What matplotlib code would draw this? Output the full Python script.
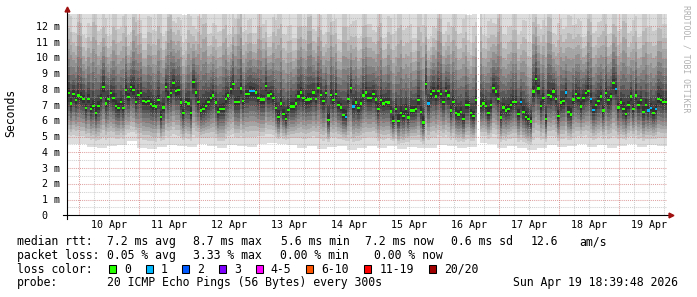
import numpy as np
import matplotlib

matplotlib.use("Agg")
import matplotlib.pyplot as plt
from matplotlib.lines import Line2D
from matplotlib.patches import Rectangle

W, H = 697, 297
MONO = "DejaVu Sans Mono"

# hourly median rtt (ms), first sample Apr 9 19:12, nan = no data
median_ms = [
    7.75, 7.1, 7.7, 7.3, 7.6, 7.5, 7.4, 6.8, 7.4, 6.75,
    6.95, 6.5, 6.95, 7.45, 8.15, 7.1, 7.4, 7.75, 7.45, 6.95,
    6.8, 7.2, 6.8, 7.95, 7.5, 8.15, 7.95, 7.2, 7.65, 7.75,
    7.25, 7.2, 7.25, 7.05, 6.95, 6.9, 7.3, 6.25, 6.85, 8.15,
    7.5,
    7.75, 8.4, 7.9, 7.95, 7.15, 6.5, 7.2, 7.1, 6.5, 8.45,
    7.8, 7.2, 6.65, 6.75, 6.95, 7.2, 7.45, 7.6, 7.15, 6.55,
    6.75, 6.75, 7.4, 7.6, 8.0, 8.35, 7.2, 7.2, 8.05, 7.25,
    7.7, 7.7, 7.9, 7.9, 7.8, 7.45, 7.35, 7.35, 8.2,
    7.6, 7.7, 7.45, 6.8, 6.25, 7.1, 6.45, 6.1, 6.7, 6.9,
    6.9, 7.1, 7.55, 7.8, 7.45, 7.3, 7.35, 7.4, 7.8, 7.4,
    8.1, 7.65, 7.25, 7.75, 6.05, 7.65, 7.3, 7.7, 7.0, 6.85,
    6.35, 6.25, 7.4, 8.1, 6.9, 7.15, 6.8, 7.1, 7.6, 7.8,
    7.45, 7.45, 7.7, 7.35, 6.75, 7.3, 7.1, 7.2, 7.15, 6.6,
    6.0, 6.75, 6.0, 6.5, 6.3, 6.75, 6.2, 6.65, 6.65, 6.75,
    7.3, 6.55, 5.9, 8.35, 7.1, 7.7, 7.9, 7.55, 7.9, 7.7,
    7.2, 7.9, 7.6, 6.65, 7.2, 6.5, 6.4, 6.55, 6.1, 7.0,
    7.0, 6.5, 6.3, 7.3, np.nan, 6.95, 7.1, 6.95, 6.5, 7.0,
    8.1, 7.85, 7.4, 6.2, 6.85, 6.65, 6.75, 7.0, 7.2, 7.2,
    6.45, 7.2, 6.55, 6.25, 6.1, 5.95, 7.85, 8.65, 8.05, 6.95,
    7.45, 6.1, 7.65, 7.55, 7.85, 7.4, 6.3, 7.15, 7.25, 7.8,
    6.55, 6.4, 7.35, 7.7, 7.45, 6.9, 7.45, 7.75, 7.9, 7.4,
    6.7, 7.0, 7.25, 7.55, 6.65, 7.75, 7.3, 7.55, 8.4, 8.0,
    6.85, 7.15, 6.75, 6.45, 7.0, 7.55, 6.75, 7.6, 7.0, 7.3,
    6.55, 7.0, 6.65, 6.8, 6.5, 6.75, 7.4, 7.3, 7.2, 7.2,
]
# hours where 1 of 20 pings was lost
lossy_hours = [73, 74, 111, 114, 144, 181, 199, 209, 210, 219, 232, 233, 235]

# fastest ping (ms) in 4 hour blocks
smoke_floor_ms = [
    4.55, 4.5, 4.35, 4.3, 4.4, 4.45, 4.7, 4.25, 4.2, 4.35,
    4.45, 4.4, 4.35, 4.5, 4.4, 4.3, 4.45, 4.4, 4.35, 4.5,
    4.6, 4.5, 4.45, 4.3, 4.4, 4.2, 4.35, 4.4, 4.15, 4.3,
    4.4, 4.3, 4.4, 4.2, 4.35, 4.25, 4.3, 4.45, 4.4, 4.3,
    4.35, 4.6, 4.5, 4.3, 4.4, 4.25, 4.15, 4.3, 4.45, 4.35,
    4.4, 4.5, 4.35, 4.45, 4.3, 4.4, 4.5, 4.35, 4.45, 4.4,
]
# slowest ping (ms) in 2 hour blocks
smoke_ceil_ms = [
    14.8, 13.2, 15.5, 13.0, 14.1, 16.0, 13.5, 14.6, 12.9, 15.1,
    13.8, 14.9, 13.0, 15.8, 14.2, 12.8, 14.7, 13.6, 15.3, 13.1,
    16.2, 13.9, 14.4, 12.7, 15.0, 13.4, 14.8, 15.9, 13.2, 14.0,
    13.6, 15.4, 12.9, 14.5, 16.1, 13.3, 14.2, 13.0, 15.2, 14.0,
    12.8, 14.6, 15.7, 13.5, 14.1, 12.9, 15.0, 13.8, 16.3, 13.4,
    14.7, 13.1, 15.5, 14.3, 12.8, 15.9, 13.7, 14.4, 13.0, 15.1,
    14.0, 13.3, 15.6, 12.9, 14.8, 13.6, 16.0, 13.9, 14.3, 13.0,
    15.2, 14.5, 12.8, 13.6, 15.8, 13.2, 14.1, 15.3, 13.5, 14.9,
    12.7, 14.2, 15.5, 13.1, 14.6, 13.8, 16.1, 13.3, 14.0, 15.0,
    13.4, 14.7, 12.9, 15.4, 13.7, 14.3, 16.0, 13.0, 14.5, 13.6,
    15.1, 13.9, 14.4, 12.8, 15.7, 13.5, 14.2, 15.2, 13.1, 14.8,
    13.6, 16.2, 13.3, 14.6, 13.0, 15.3, 14.0, 13.7, 15.0, 14.1,
]
# where the sorted pings sit between median and envelope, outer pair first
lower_frac = [1.0, 0.821, 0.714, 0.625, 0.536, 0.446, 0.357, 0.268, 0.179, 0.089]
upper_frac = [1.0, 0.721, 0.588, 0.485, 0.397, 0.309, 0.235, 0.162, 0.103, 0.044]

day_labels = ["10 Apr", "11 Apr", "12 Apr", "13 Apr", "14 Apr",
              "15 Apr", "16 Apr", "17 Apr", "18 Apr", "19 Apr"]
window_start_day = -0.2  # relative to Apr 10 00:00
y_max_ms = 12.78

loss_legend = [("0", "#26ff00"), ("1", "#00b8ff"), ("2", "#0059ff"), ("3", "#7e00ff"),
               ("4-5", "#ff00ff"), ("6-10", "#ff5500"), ("11-19", "#ff0000"), ("20/20", "#a10000")]

stats_rtt = [("median rtt:", 16.7), ("7.2 ms avg", 107.3), ("8.7 ms max", 192.7),
             ("5.6 ms min", 280.7), ("7.2 ms now", 365), ("0.6 ms sd", 450.7),
             ("12.6", 530.7), ("am/s", 579.3)]
stats_loss = [("packet loss:", 16.7), ("0.05 % avg", 107.3), ("3.33 % max", 192.7),
              ("0.00 % min", 280), ("0.00 % now", 374.3)]


def px(x, y):
    return x / W, 1 - y / H


def step_fill(ax, edges, lo, hi, **kw):
    """fill per column, skipping nan columns"""
    ok = ~np.isnan(lo)
    i = 0
    n = len(lo)
    while i < n:
        if not ok[i]:
            i += 1
            continue
        j = i
        while j < n and ok[j]:
            j += 1
        ax.fill_between(edges[i:j + 1], np.r_[lo[i:j], lo[j - 1]], np.r_[hi[i:j], hi[j - 1]],
                        step="post", linewidth=0, **kw)
        i = j


def main():
    fig = plt.figure(figsize=(W / 100, H / 100), dpi=100)
    fig.patch.set_facecolor("white")
    ax = fig.add_axes([67 / W, 1 - 215.3 / H, 600 / W, 201.3 / H])
    ax.set_xlim(window_start_day, window_start_day + 10)
    ax.set_ylim(0, y_max_ms)
    for s in ax.spines.values():
        s.set_visible(False)
    ax.tick_params(left=False, bottom=False, labelleft=False, labelbottom=False)

    med = np.array(median_ms, dtype=float)
    n = len(med)
    edges = window_start_day + np.arange(n + 1) / 24
    floor = np.repeat(smoke_floor_ms, 4)[:n]
    ceil = np.repeat(smoke_ceil_ms, 2)[:n]

    # smoke: pairs of sorted pings, lighter on the outside
    for k in range(10):
        lo = med - lower_frac[k] * (med - floor)
        hi = med + upper_frac[k] * (ceil - med)
        g = (221 - 19 * k) / 255
        step_fill(ax, edges, lo, hi, color=(g, g, g), zorder=1)

    # grid
    for v in np.arange(0.5, y_max_ms, 0.5):
        major = v % 1 == 0
        ax.axhline(v, color="#d07070" if major else "#b0b0b0", alpha=0.65 if major else 0.6,
                   lw=0.75, ls=(0, (1, 1)), zorder=3)
    for d in np.arange(0, 10, 0.25):
        major = d % 1 == 0
        ax.axvline(d, color="#d07070" if major else "#b0b0b0", alpha=0.65 if major else 0.6,
                   lw=0.75, ls=(0, (1, 1)), zorder=3)

    # median, coloured by loss
    colors = ["#26ff00"] * n
    for h in lossy_hours:
        colors[h] = "#00b8ff"
    ax.bar(edges[:-1], 0.15, bottom=med - 0.075, width=1 / 24, align="edge",
           color=colors, linewidth=0, zorder=4)

    # axes with arrows
    fig.add_artist(Line2D([63 / W, 669 / W], [1 - 215.3 / H] * 2, color="black", lw=0.8))
    fig.add_artist(Line2D([67 / W, 67 / W], [1 - 219 / H, 1 - 10 / H], color="black", lw=0.8))
    fig.add_artist(Line2D([671 / W], [1 - 215.3 / H], marker=">", ms=3.5, color="#a01010", lw=0))
    fig.add_artist(Line2D([67 / W], [1 - 9 / H], marker="^", ms=3.5, color="#a01010", lw=0))

    # tick labels
    for v in range(13):
        ax.annotate(f"{v} m" if v else "0", xy=(0, v), xycoords=ax.get_yaxis_transform(),
                    xytext=(-7 if v else -20, -3.6), textcoords="offset pixels",
                    ha="right", va="baseline", fontsize=7.2, family=MONO)
    for i, lab in enumerate(day_labels):
        ax.annotate(lab, xy=(i + 0.5, 0), xycoords=ax.get_xaxis_transform(),
                    xytext=(0, -13.2), textcoords="offset pixels",
                    ha="center", va="baseline", fontsize=7.2, family=MONO)

    fig.text(*px(11, 113), "Seconds", rotation=90, ha="center", va="center",
             fontsize=8.3, family=MONO)
    fig.text(*px(686, 5), "RRDTOOL / TOBI OETIKER", rotation=270, ha="center", va="top",
             fontsize=5.9, family=MONO, color="#b0b0b0")

    # legend block
    for s, x in stats_rtt:
        fig.text(*px(x, 245.3), s, va="baseline", fontsize=8.3, family=MONO)
    for s, x in stats_loss:
        fig.text(*px(x, 259), s, va="baseline", fontsize=8.3, family=MONO)
    fig.text(*px(16.7, 272.7), "loss color:", va="baseline", fontsize=8.3, family=MONO)
    bx = 109.0
    for lab, col in loss_legend:
        fig.add_artist(Rectangle(px(bx, 272.5), 7 / W, 7.5 / H, transform=fig.transFigure,
                                 facecolor=col, edgecolor="black", lw=0.75))
        fig.text(*px(bx + 15, 272.7), lab, va="baseline", fontsize=8.3, family=MONO)
        bx += 36.7 + 7 * (len(lab) - 1)
    fig.text(*px(16.7, 286.3), "probe:", va="baseline", fontsize=8.3, family=MONO)
    fig.text(*px(107.3, 286.3), "20 ICMP Echo Pings (56 Bytes) every 300s", va="baseline",
             fontsize=8.3, family=MONO)
    fig.text(*px(513, 286.3), "Sun Apr 19 18:39:48 2026", va="baseline", fontsize=8.3, family=MONO)

    fig.savefig("out.png", dpi=100)


if __name__ == "__main__":
    main()
